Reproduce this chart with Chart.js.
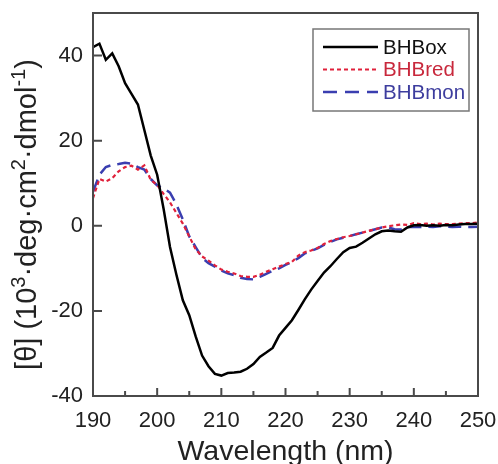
<!DOCTYPE html>
<html>
<head>
<meta charset="utf-8">
<script src="https://cdn.jsdelivr.net/npm/chart.js@4.4.1/dist/chart.umd.min.js"></script>
<style>
  html, body { margin: 0; padding: 0; background: #fff; }
  #wrap { width: 498px; height: 464px; }
</style>
</head>
<body>
<div id="wrap"><canvas id="cd-chart" width="498" height="464"></canvas></div>
<script>
/* CD spectra: BHBox / BHBred / BHBmon */

const wavelengths = [190, 191, 192, 193, 194, 195, 196, 197, 198, 199,
    200, 201, 202, 203, 204, 205, 206, 207, 208, 209,
    210, 211, 212, 213, 214, 215, 216, 217, 218, 219,
    220, 221, 222, 223, 224, 225, 226, 227, 228, 229,
    230, 231, 232, 233, 234, 235, 236, 237, 238, 239,
    240, 241, 242, 243, 244, 245, 246, 247, 248, 249, 250];

const bhbOx = [42, 42.8, 39, 40.5, 37.5, 33.5, 31, 28.5, 22.5, 16.5,
    12, 4, -5, -11.5, -17.5, -21, -26, -30.5, -33, -34.8,
    -35.2, -34.6, -34.5, -34.3, -33.6, -32.5, -30.8, -29.8, -28.7, -25.8,
    -24, -22.2, -19.8, -17.3, -15, -13, -11, -9.5, -7.8, -6.2,
    -5.2, -4.9, -4, -3, -2, -1.3, -1.1, -1.3, -1.4, -0.4,
    0.1, 0.2, 0, 0.1, 0, 0.2, 0.1, 0.3, 0.4, 0.4, 0.5];

const bhbRed = [6.5, 11, 10.4, 11.2, 12.8, 13.8, 14.1, 13.2, 14.2, 10.8,
    9.6, 7.5, 5.5, 3, 0.5, -2.5, -5.5, -7.2, -8.2, -9.3,
    -10.3, -10.8, -11.2, -11.8, -12, -12, -11.5, -10.8, -10.2, -9.6,
    -9, -8.5, -7, -6.2, -5.8, -5.2, -4.3, -3.6, -3.1, -2.7,
    -2.4, -2, -1.6, -1.2, -0.8, -0.4, -0.1, 0.1, 0.3, 0.2,
    0.6, 0.4, 0.5, 0.3, 0.5, 0.4, 0.4, 0.5, 0.6, 0.6, 0.8];

const bhbMon = [8, 12, 13.8, 14.3, 14.5, 14.8, 14.6, 13.8, 13.2, 11,
    9.5, 8.8, 7.8, 5, 1.5, -2.5, -5, -7.5, -8.8, -9.6,
    -10.5, -11.2, -11.6, -12.2, -12.5, -12.6, -12, -11.3, -10.6, -10,
    -9.2, -8.5, -7.6, -6.5, -5.9, -5.3, -4.5, -3.8, -3.2, -2.8,
    -2.4, -2, -1.6, -1.2, -0.8, -0.4, -0.4, -0.8, -0.9, -0.3,
    -0.2, -0.3, -0.2, -0.3, -0.1, -0.2, -0.3, -0.2, -0.3, -0.3, -0.2];

const seriesNames = ["BHBox", "BHBred", "BHBmon"];

// y title pieces: [text, superscript?]
const yTitleParts = [["[\u03b8] (10", false], ["3", true], ["\u00b7deg\u00b7cm", false],
    ["2", true], ["\u00b7dmol", false], ["-1", true], [")", false]];

function toPoints(ys) {
    return wavelengths.map((x, i) => ({ x: x, y: ys[i] }));
}

const axisColor = '#4a4a4a';
const fontFamily = '"Liberation Sans", Arial, Helvetica, sans-serif';

/* frame, inward ticks, y title and boxed legend */
const framePlugin = {
    id: 'frame',
    afterDraw(chart) {
        const ctx = chart.ctx;
        const a = chart.chartArea;
        const xs = chart.scales.x;
        const ys = chart.scales.y;
        ctx.save();
        ctx.strokeStyle = axisColor;
        ctx.lineWidth = 2;
        ctx.strokeRect(a.left, a.top, a.right - a.left, a.bottom - a.top);

        ctx.lineWidth = 2;
        ctx.beginPath();
        for (let v = xs.min; v <= xs.max; v += 5) {
            const px = xs.getPixelForValue(v);
            const len = (v % 10 === 0) ? 8 : 5;
            ctx.moveTo(px, a.bottom);
            ctx.lineTo(px, a.bottom - len);
        }
        ys.ticks.forEach(t => {
            const py = ys.getPixelForValue(t.value);
            ctx.moveTo(a.left, py);
            ctx.lineTo(a.left + 9, py);
        });
        ctx.stroke();

        // rotated y title with real superscripts
        const mainFont = '29px ' + fontFamily;
        const supFont = '20px ' + fontFamily;
        let total = 0;
        yTitleParts.forEach(p => {
            ctx.font = p[1] ? supFont : mainFont;
            total += ctx.measureText(p[0]).width;
        });
        ctx.translate(36, (a.top + a.bottom) / 2 + 10);
        ctx.rotate(-Math.PI / 2);
        ctx.fillStyle = '#222';
        ctx.textBaseline = 'alphabetic';
        let cx = -total / 2;
        yTitleParts.forEach(p => {
            ctx.font = p[1] ? supFont : mainFont;
            ctx.fillText(p[0], cx, p[1] ? -11 : 0);
            cx += ctx.measureText(p[0]).width;
        });
        ctx.setTransform(1, 0, 0, 1, 0, 0);

        // legend box
        const bx = a.right - 165, by = a.top + 16, bw = 156, bh = 82;
        ctx.lineWidth = 1.5;
        ctx.strokeStyle = '#777';
        ctx.fillStyle = '#fff';
        ctx.fillRect(bx, by, bw, bh);
        ctx.strokeRect(bx, by, bw, bh);
        ctx.font = '20.5px ' + fontFamily;
        ctx.textBaseline = 'middle';
        chart.data.datasets.forEach((ds, i) => {
            const ry = by + 18 + i * 22.5;
            ctx.strokeStyle = ds.borderColor;
            ctx.lineWidth = ds.borderWidth;
            ctx.setLineDash(ds.legendDash);
            ctx.beginPath();
            ctx.moveTo(bx + 10, ry);
            ctx.lineTo(bx + 65, ry);
            ctx.stroke();
            ctx.setLineDash([]);
            ctx.fillStyle = ds.textColor;
            ctx.fillText(ds.label, bx + 70, ry + 1);
        });
        ctx.restore();
    }
};

const cdCanvas = document.getElementById("cd-chart");

const cdData = {
    datasets: [{
        label: seriesNames[0],
        data: toPoints(bhbOx),
        borderColor: '#000000',
        textColor: '#111111',
        borderWidth: 2.5,
        borderDash: [],
        legendDash: []
    }, {
        label: seriesNames[1],
        data: toPoints(bhbRed),
        borderColor: '#e0213b',
        textColor: '#c8283c',
        borderWidth: 2.2,
        borderDash: [4, 3],
        legendDash: [4, 3]
    }, {
        label: seriesNames[2],
        data: toPoints(bhbMon),
        borderColor: '#3a3eb0',
        textColor: '#3d3d9e',
        borderWidth: 2.5,
        borderDash: [13, 7],
        legendDash: [14, 8]
    }]
};

const cdOptions = {
    responsive: false,
    animation: false,
    layout: {
        padding: { top: 13, right: 20, left: 0, bottom: 0 }
    },
    elements: {
        point: { radius: 0 },
        line: { tension: 0, fill: false }
    },
    scales: {
        x: {
            type: 'linear',
            min: 190,
            max: 250,
            afterFit(scale) {
                scale.height = 68;
                scale.paddingLeft = 0;
                scale.paddingRight = 0;
            },
            grid: { display: false, drawTicks: false },
            border: { display: false },
            ticks: {
                stepSize: 10,
                padding: 12,
                color: '#222',
                font: { family: fontFamily, size: 22 }
            },
            title: {
                display: true,
                text: 'Wavelength (nm)',
                color: '#222',
                font: { family: fontFamily, size: 28.5, lineHeight: 0.8 },
                padding: { top: 2, bottom: 0 }
            }
        },
        y: {
            min: -40,
            max: 50,
            afterFit(scale) {
                scale.width = 93;
                scale.paddingTop = 0;
                scale.paddingBottom = 0;
            },
            afterBuildTicks(scale) {
                scale.ticks = scale.ticks.filter(t => t.value % 20 === 0);
            },
            grid: { display: false, drawTicks: false },
            border: { display: false },
            ticks: {
                stepSize: 20,
                padding: 10,
                color: '#222',
                font: { family: fontFamily, size: 22 }
            },
            title: { display: false }
        }
    },
    plugins: {
        legend: { display: false },
        tooltip: { enabled: false }
    }
};

let cdChart = new Chart(cdCanvas, {
    type: 'line',
    data: cdData,
    options: cdOptions,
    plugins: [framePlugin]
});
</script>
</body>
</html>
